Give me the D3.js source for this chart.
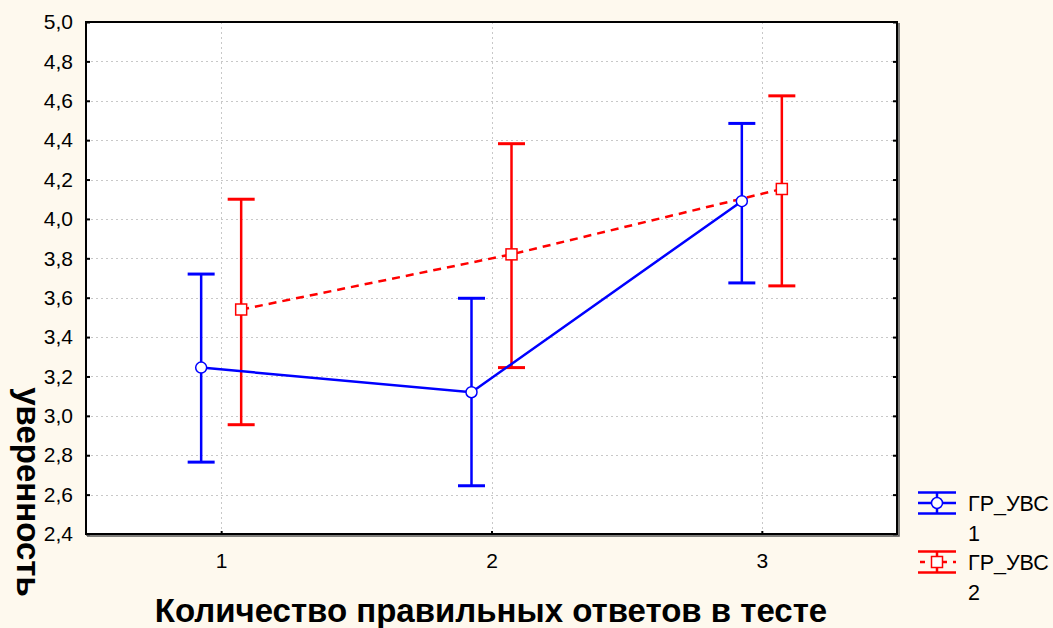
<!DOCTYPE html>
<html>
<head>
<meta charset="utf-8">
<script src="https://cdn.jsdelivr.net/npm/d3@7/dist/d3.min.js"></script>
<style>
  body { margin: 0; background: #FEF9EE; }
  svg { display: block; font-family: "Liberation Sans", Arial, sans-serif; }
</style>
</head>
<body>
<svg id="chart" width="1053" height="628"></svg>
<script>
// data
const categories = [1, 2, 3];
const yTicks = [2.4, 2.6, 2.8, 3.0, 3.2, 3.4, 3.6, 3.8, 4.0, 4.2, 4.4, 4.6, 4.8, 5.0];

const blueMean = [3.245, 3.12, 4.09];
const blueLow = [2.765, 2.645, 3.675];
const blueHigh = [3.72, 3.597, 4.485];

const redMean = [3.54, 3.82, 4.152];
const redLow = [2.955, 3.245, 3.66];
const redHigh = [4.10, 4.382, 4.625];

const seriesNames = ["ГР_УВС 1", "ГР_УВС 2"];

const width = 1053, height = 628;
const margins = { top: 22, right: 156, bottom: 94, left: 86 };

const svg = d3.select("#chart");

const x = d3.scaleLinear().domain([0.5, 3.5]).range([margins.left, width - margins.right]);
const y = d3.scaleLinear().domain([2.4, 5.0]).range([height - margins.bottom, margins.top]);
const offset = 0.074;

// plot area
svg.append("rect")
    .attr("x", margins.left).attr("y", margins.top)
    .attr("width", width - margins.left - margins.right)
    .attr("height", height - margins.top - margins.bottom)
    .attr("fill", "#fff");

// grid
const grid = svg.append("g").attr("stroke", "#c8c8c8").attr("stroke-dasharray", "2,3").attr("stroke-width", 1);
grid.selectAll("line.h").data(yTicks.slice(1, -1)).enter().append("line")
    .attr("x1", margins.left).attr("x2", width - margins.right)
    .attr("y1", d => Math.round(y(d)) + 0.5).attr("y2", d => Math.round(y(d)) + 0.5);
grid.selectAll("line.v").data(categories).enter().append("line")
    .attr("y1", margins.top).attr("y2", height - margins.bottom)
    .attr("x1", d => Math.round(x(d)) + 0.5).attr("x2", d => Math.round(x(d)) + 0.5);

// axes
const fmt = d => d3.format(".1f")(d).replace(".", ",");
const leftAxis = d3.axisLeft(y).tickValues(yTicks).tickFormat(fmt).tickSizeInner(-4).tickSizeOuter(0).tickPadding(13);
const gLeft = svg.append("g").attr("transform", `translate(${margins.left},0)`).call(leftAxis);
gLeft.select(".domain").remove();
gLeft.selectAll("line").attr("stroke", "#000").attr("stroke-width", 2);
gLeft.selectAll("text").attr("font-size", 21).attr("fill", "#000").attr("font-family", "Liberation Sans, Arial");

const rightAxis = d3.axisRight(y).tickValues(yTicks).tickFormat("").tickSizeInner(-4).tickSizeOuter(0);
const gRight = svg.append("g").attr("transform", `translate(${width - margins.right},0)`).call(rightAxis);
gRight.select(".domain").remove();
gRight.selectAll("line").attr("stroke", "#000").attr("stroke-width", 2);

const bottomAxis = d3.axisBottom(x).tickValues(categories).tickFormat(d3.format("d")).tickSizeInner(-3).tickSizeOuter(0).tickPadding(19);
const gBottom = svg.append("g").attr("transform", `translate(0,${height - margins.bottom})`).call(bottomAxis);
gBottom.select(".domain").remove();
gBottom.selectAll("line").attr("stroke", "#000").attr("stroke-width", 2);
gBottom.selectAll("text").attr("font-size", 21).attr("fill", "#000").attr("font-family", "Liberation Sans, Arial");

// frame
svg.append("rect")
    .attr("x", margins.left).attr("y", margins.top)
    .attr("width", width - margins.left - margins.right)
    .attr("height", height - margins.top - margins.bottom)
    .attr("fill", "none").attr("stroke", "#000").attr("stroke-width", 2);
svg.append("path")
    .attr("d", `M${width - margins.right + 2},${margins.top + 1}V${height - margins.bottom + 2}H${margins.left + 1}`)
    .attr("fill", "none").attr("stroke", "#555").attr("stroke-width", 1.5);

// series
function drawSeries(mean, low, high, color, dx, dashed, marker) {
    const g = svg.append("g");
    const pts = categories.map((c, i) => ({ c: c + dx, m: mean[i], lo: low[i], hi: high[i] }));
    const capW = 13.5;
    g.selectAll("line.bar").data(pts).enter().append("line")
        .attr("x1", d => x(d.c)).attr("x2", d => x(d.c))
        .attr("y1", d => y(d.hi)).attr("y2", d => y(d.lo))
        .attr("stroke", color).attr("stroke-width", 2.5);
    ["hi", "lo"].forEach(k => {
        g.selectAll("line.cap" + k).data(pts).enter().append("line")
            .attr("x1", d => x(d.c) - capW).attr("x2", d => x(d.c) + capW)
            .attr("y1", d => y(d[k])).attr("y2", d => y(d[k]))
            .attr("stroke", color).attr("stroke-width", 3);
    });
    g.append("path").datum(pts)
        .attr("d", d3.line().x(d => x(d.c)).y(d => y(d.m)))
        .attr("fill", "none").attr("stroke", color).attr("stroke-width", 2.5)
        .attr("stroke-dasharray", dashed ? "8,6" : null);
    if (marker === "circle") {
        g.selectAll("circle").data(pts).enter().append("circle")
            .attr("cx", d => x(d.c)).attr("cy", d => y(d.m)).attr("r", 5.5)
            .attr("fill", "#fff").attr("stroke", color).attr("stroke-width", 1.5);
    } else {
        g.selectAll("rect").data(pts).enter().append("rect")
            .attr("x", d => x(d.c) - 5.5).attr("y", d => y(d.m) - 5.5)
            .attr("width", 11).attr("height", 11)
            .attr("fill", "#fff").attr("stroke", color).attr("stroke-width", 1.5);
    }
}
drawSeries(redMean, redLow, redHigh, "#ff0000", offset, true, "square");
drawSeries(blueMean, blueLow, blueHigh, "#0000ff", -offset, false, "circle");

// legend
const legend = [
    { name: seriesNames[0], color: "#0000ff", dashed: false, marker: "circle", y: 503 },
    { name: seriesNames[1], color: "#ff0000", dashed: true, marker: "square", y: 562 }
];
legend.forEach(l => {
    const g = svg.append("g").attr("transform", `translate(918,${l.y})`);
    if (l.dashed) {
        g.append("line").attr("x1", 0).attr("x2", 38).attr("stroke", l.color).attr("stroke-width", 2.5)
            .attr("stroke-dasharray", "5,6").attr("stroke-dashoffset", -2);
    } else {
        g.append("line").attr("x1", 0).attr("x2", 38).attr("stroke", l.color).attr("stroke-width", 2.5);
    }
    [-10.5, 10.5].forEach(dy => g.append("line").attr("x1", 0).attr("x2", 38).attr("y1", dy).attr("y2", dy)
        .attr("stroke", l.color).attr("stroke-width", 2.5));
    g.append("line").attr("x1", 19).attr("x2", 19).attr("y1", -10.5).attr("y2", 10.5)
        .attr("stroke", l.color).attr("stroke-width", 2.5);
    if (l.marker === "circle") {
        g.append("circle").attr("cx", 19).attr("cy", 0).attr("r", 5.5)
            .attr("fill", "#fff").attr("stroke", l.color).attr("stroke-width", 1.5);
    } else {
        g.append("rect").attr("x", 13.5).attr("y", -5.5).attr("width", 11).attr("height", 11)
            .attr("fill", "#fff").attr("stroke", l.color).attr("stroke-width", 1.5);
    }
    const parts = l.name.split(" ");
    g.append("text").attr("x", 50).attr("y", 8).attr("font-size", 21.5).text(parts[0]);
    g.append("text").attr("x", 50).attr("y", 38).attr("font-size", 21.5).text(parts[1]);
});

// axis titles
svg.append("text")
    .attr("x", 491).attr("y", 622)
    .attr("text-anchor", "middle")
    .attr("font-size", 33).attr("font-weight", "bold")
    .text("Количество правильных ответов в тесте");
svg.append("text")
    .attr("transform", "translate(17,492) rotate(90)")
    .attr("text-anchor", "middle")
    .attr("font-size", 33).attr("font-weight", "bold")
    .text("уверенность");
</script>
</body>
</html>
